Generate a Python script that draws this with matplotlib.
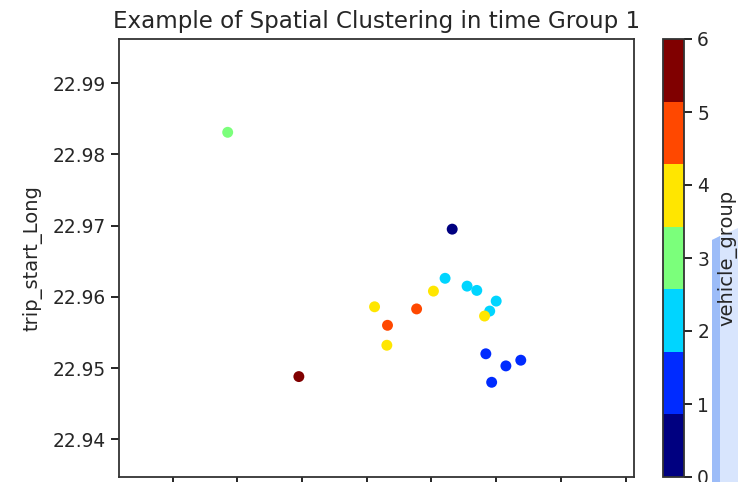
import matplotlib
matplotlib.use("Agg")
import matplotlib.pyplot as plt
from matplotlib.patches import Polygon

trip_start_Lat = [113.9432, 113.9421, 113.9455, 113.9470, 113.9500, 113.9490,
                  113.9482, 113.9403, 113.9312, 113.9377, 113.9332, 113.9331,
                  113.9484, 113.9515, 113.9538, 113.9493, 113.9085, 113.9195]
trip_start_Long = [22.9695, 22.9626, 22.9615, 22.9609, 22.9594, 22.9580,
                   22.9573, 22.9608, 22.9586, 22.9583, 22.9560, 22.9532,
                   22.9520, 22.9503, 22.9511, 22.9480, 22.9831, 22.9488]
vehicle_group = [0, 2, 2, 2, 2, 2,
                 4, 4, 4, 5, 5, 4,
                 1, 1, 1, 1, 3, 6]
cbar_ticks = [0, 1, 2, 3, 4, 5, 6]
y_ticks = [22.94, 22.95, 22.96, 22.97, 22.98, 22.99]
x_ticks = [113.90, 113.91, 113.92, 113.93, 113.94, 113.95, 113.96, 113.97]

W, H = 738, 482
fig = plt.figure(figsize=(W / 100, H / 100), dpi=100)
fs = 13.4
lfs = 14

ax = fig.add_axes([119 / W, 1 - 477 / H, 515 / W, 438 / H])
cax = fig.add_axes([663 / W, 1 - 477 / H, 21 / W, 438 / H])

cmap = plt.get_cmap("jet", 7)
sc = ax.scatter(trip_start_Lat, trip_start_Long, c=vehicle_group, cmap=cmap,
                vmin=0, vmax=6, s=62, linewidths=0)

ax.set_xlim(113.8917, 113.9713)
ax.set_ylim(22.9347, 22.9962)
ax.set_xticks(x_ticks)
ax.set_yticks(y_ticks)
ax.set_yticklabels([f"{v:.2f}" for v in y_ticks])
ax.tick_params(axis="x", labelbottom=False, length=6, width=1.2)
ax.tick_params(axis="y", labelsize=fs, length=6, width=1.2, labelcolor="#262626")
for sp in ax.spines.values():
    sp.set_linewidth(1.3)
    sp.set_color("#333333")
ax.set_ylabel("trip_start_Long", fontsize=lfs, color="#262626", labelpad=7)
ax.set_title("Example of Spatial Clustering in time Group 1", fontsize=16.6,
             color="#262626", pad=8)

cb = fig.colorbar(sc, cax=cax, ticks=cbar_ticks)
cb.outline.set_linewidth(1.3)
cb.outline.set_edgecolor("#333333")
cax.tick_params(labelsize=fs, length=6, width=1.2, labelcolor="#262626")

# selection-highlight artifact behind the colorbar label (pixel coords from top-left)
fill_px = [[712, 482], [712, 240], [738, 228], [738, 482]]
edge_px = [[712, 482], [712, 240], [720, 236], [720, 482]]
for pts, col in ((fill_px, "#d8e5fd"), (edge_px, "#9cbcf8")):
    p = Polygon([[x, H - y] for x, y in pts], closed=True, transform=None,
                facecolor=col, edgecolor="none", zorder=-1)
    fig.add_artist(p)

cb.set_label("vehicle_group", fontsize=lfs, color="#262626", labelpad=6)

fig.savefig("out.png", dpi=100)
